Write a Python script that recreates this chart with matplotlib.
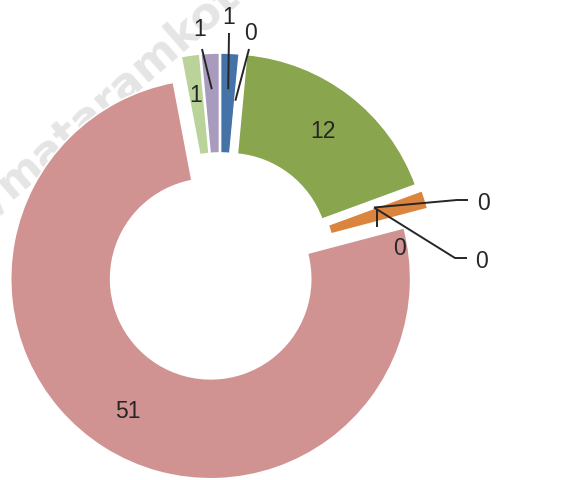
import matplotlib
matplotlib.use('Agg')
import numpy as np
import matplotlib.pyplot as plt

# ----------------------------------------------------------------------------
# Data
# ----------------------------------------------------------------------------

values = [1, 0, 12, 0, 0, 1, 51, 1, 1]
labels = ['1', '0', '12', '0', '0', '0', '51', '1', '1']
colors = ['#4572A7', '#AA4643', '#89A54E', '#80699B', '#3D96AE',
          '#DB843D', '#D19292', '#B9D39B', '#A99BBD']
explode = [0.055, 0, 0.065, 0, 0, 0.075, 0.0875, 0.055, 0.055]

# ----------------------------------------------------------------------------
# Layout (pixels)
# ----------------------------------------------------------------------------

W, H = 581, 481
CX, CY, R = 220, 265, 200

def to_data(x, y):
    return (x - CX) / R, (CY - y) / R

fnt = dict(family=['DejaVu Sans Condensed', 'Liberation Sans Narrow',
                   'Liberation Sans'],
           stretch='condensed', size=16.5, color='#262626')

fig = plt.figure(figsize=(W / 100, H / 100), dpi=100)
ax = fig.add_axes([0, 0, 1, 1])

wedges, _ = ax.pie(values, colors=colors, explode=explode, startangle=90,
                   counterclock=False, radius=1,
                   wedgeprops=dict(width=0.5, edgecolor='white', linewidth=1.2))
ax.set_xlim(-CX / R, (W - CX) / R)
ax.set_ylim(-(H - CY) / R, CY / R)
ax.axis('off')

# watermark behind the ring
wx, wy = to_data(10, 200)
wm = dict(rotation=41, rotation_mode='anchor', va='baseline', fontsize=32,
          fontweight='bold', color='#e5e5e5', zorder=0)
ax.text(wx, wy, 'http://', ha='right', **wm)
ax.text(wx, wy, 'mataramkota.com', ha='left', **wm)

def ring_point(w, r=0.8):
    t = np.deg2rad((w.theta1 + w.theta2) / 2.0)
    cx, cy = w.center
    return cx + r * np.cos(t), cy + r * np.sin(t)

# labels drawn inside the ring
for i, r in [(2, 0.78), (6, 0.78), (7, 0.80)]:
    x, y = ring_point(wedges[i], r)
    ax.text(x, y, labels[i], ha='center', va='center', **fnt)

# labels with leader lines: text pos, path of the leader (pixels)
leaders = {
    0: ((229, 18), [(229, 34)]),
    8: ((200, 30), [(202, 50)]),
    1: ((250, 33), [(249, 50)]),
    3: ((483, 203), [(468, 201), (457, 201)]),
    4: ((481, 261), [(467, 259), (455, 259)]),
    5: ((400, 249), [(377, 228)]),
}
for i, (tpos, path) in leaders.items():
    tx, ty = to_data(*tpos)
    ax.text(tx, ty, labels[i], ha='center', va='center', **fnt)
    pts = [to_data(*p) for p in path]
    end = ring_point(wedges[i], 0.82)
    if i == 5:
        end = (pts[0][0], end[1])
    pts.append(end)
    xs, ys = zip(*pts)
    ax.plot(xs, ys, color='#262626', lw=1.4, solid_capstyle='butt')

fig.savefig('out.png', dpi=100)
